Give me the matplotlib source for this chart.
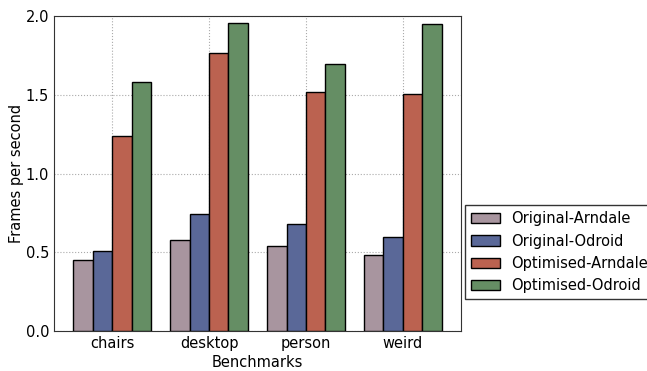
import numpy as np
import matplotlib
matplotlib.use('Agg')
import matplotlib.pyplot as plt

benchmarks = ['chairs', 'desktop', 'person', 'weird']
series = ['Original-Arndale', 'Original-Odroid', 'Optimised-Arndale', 'Optimised-Odroid']
orig_arndale = [0.45, 0.575, 0.54, 0.48]
orig_odroid = [0.51, 0.74, 0.68, 0.595]
opt_arndale = [1.236, 1.767, 1.516, 1.507]
opt_odroid = [1.579, 1.954, 1.695, 1.949]
colors = ['#a8959f', '#5a6898', '#bb6250', '#658e64']

values = [orig_arndale, orig_odroid, opt_arndale, opt_odroid]

fig = plt.figure(figsize=(6.47, 3.71), dpi=100)
ax = fig.add_axes([54 / 647, 1 - 331 / 371, 407 / 647, 315 / 371])

x = np.arange(len(benchmarks))
width = 0.2
for i, (name, vals) in enumerate(zip(series, values)):
    ax.bar(x - 0.4 + i * width, vals, width, align='edge', color=colors[i],
           edgecolor='black', linewidth=1.0, label=name, zorder=3)

ax.set_xlim(-0.6, 3.6)
ax.set_ylim(0, 2.0)
ax.set_yticks([0.0, 0.5, 1.0, 1.5, 2.0])
ax.set_xticks(x)
ax.set_xticklabels(benchmarks)
ax.grid(True, color='#aaaaaa', linestyle=':', linewidth=0.8, zorder=0)
ax.tick_params(direction='in', length=0, labelsize=10.5)
for s in ax.spines.values():
    s.set_color('#333333')
ax.set_xlabel('Benchmarks', fontsize=10.5, labelpad=3)
ax.set_ylabel('Frames per second', fontsize=10.5, labelpad=1)

leg = ax.legend(loc='center left', bbox_to_anchor=(1.01, 0.25), fontsize=10.5,
                borderaxespad=0, fancybox=False, framealpha=1, edgecolor='#333333',
                handlelength=2.0, handletextpad=0.75, borderpad=0.4, labelspacing=0.5)
leg.get_frame().set_linewidth(1.0)

fig.savefig('out.png', dpi=100)
